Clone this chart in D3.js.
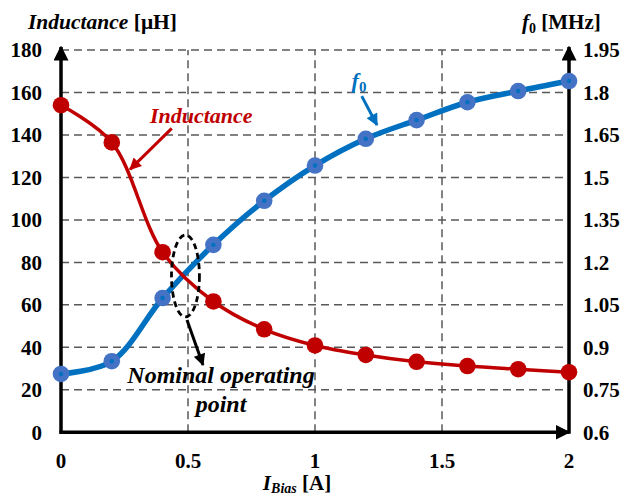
<!DOCTYPE html>
<html><head><meta charset="utf-8">
<script src="https://cdn.jsdelivr.net/npm/d3@7"></script>
<style>
html,body{margin:0;padding:0;background:#fff;}
svg{display:block;}
</style></head>
<body>
<svg id="chart" width="623" height="497"></svg>
<script>
// ---- data ----
const biasCurrent = [0, 0.2, 0.4, 0.6, 0.8, 1.0, 1.2, 1.4, 1.6, 1.8, 2.0];
const inductance = [154, 136.5, 84.8, 61.6, 48.5, 40.9, 36.4, 33.2, 31.2, 29.7, 28.3];
const f0MHz = [0.806, 0.851, 1.074, 1.262, 1.4175, 1.542, 1.6365, 1.7025, 1.7655, 1.805, 1.8405];
const xTicks = [0, 0.5, 1, 1.5, 2];
const xTickLabels = ["0", "0.5", "1", "1.5", "2"];
const yLeftTicks = [0, 20, 40, 60, 80, 100, 120, 140, 160, 180];
const yRightTicks = [0.6, 0.75, 0.9, 1.05, 1.2, 1.35, 1.5, 1.65, 1.8, 1.95];
const yRightLabels = ["0.6", "0.75", "0.9", "1.05", "1.2", "1.35", "1.5", "1.65", "1.8", "1.95"];
// annotations (data units: x in A, y in µH)
const ellipseAnn = {cx: 0.49, cy: 73.6, rx: 0.055, ry: 19.3};
const arrowInductance = [[0.436, 143.1], [0.272, 123.8]];
const arrowF0 = [[1.184, 158.3], [1.244, 144.7]];
const arrowNominal = [[0.496, 52.9], [0.559, 31.7]];

const FONT = "'Liberation Serif', Tinos, 'Times New Roman', serif";
const svg = d3.select("#chart").attr("font-family", FONT).attr("font-weight", "bold");
const mLeft = 61, mRight = 569, mTop = 50, mBottom = 432.3;
const x = d3.scaleLinear().domain([0, 2]).range([mLeft, mRight]);
const yL = d3.scaleLinear().domain([0, 180]).range([mBottom, mTop]);
const yR = d3.scaleLinear().domain([0.6, 1.95]).range([mBottom, mTop]);

const red = "#C00000", blue = "#0070C0", blueMk = "#4472C4", gridC = "#595959";

// markers
const defs = svg.append("defs");
function arrowMarker(id, color, w, h) {
  defs.append("marker").attr("id", id).attr("viewBox", "0 0 10 10")
    .attr("refX", 9).attr("refY", 5).attr("markerUnits", "userSpaceOnUse")
    .attr("markerWidth", w).attr("markerHeight", h).attr("orient", "auto")
    .append("path").attr("d", "M0,0L10,5L0,10Z").attr("fill", color);
}
arrowMarker("ahRed", red, 13, 12);
arrowMarker("ahBlue", blue, 13, 12);
arrowMarker("ahBlack", "#000", 13, 12);
arrowMarker("ahAxis", "#000", 15, 15);

// grid
const g = svg.append("g");
g.selectAll("line.h").data(yLeftTicks.filter(d => d > 0)).join("line")
  .attr("x1", mLeft).attr("x2", mRight).attr("y1", d => yL(d)).attr("y2", d => yL(d))
  .attr("stroke", gridC).attr("stroke-width", 1.5).attr("stroke-dasharray", "8,5");
g.selectAll("line.v").data(xTicks.filter(d => d > 0 && d < 2)).join("line")
  .attr("y1", mBottom).attr("y2", mTop).attr("x1", d => x(d)).attr("x2", d => x(d))
  .attr("stroke", gridC).attr("stroke-width", 1.5).attr("stroke-dasharray", "8,5");

// axes lines with arrows
svg.append("line").attr("x1", x(0)).attr("x2", x(0)).attr("y1", mBottom + 1.5).attr("y2", mTop - 3)
  .attr("stroke", "#000").attr("stroke-width", 3.5).attr("marker-end", "url(#ahAxis)");
svg.append("line").attr("x1", x(2)).attr("x2", x(2)).attr("y1", mBottom + 1.5).attr("y2", mTop - 3)
  .attr("stroke", "#000").attr("stroke-width", 3.5).attr("marker-end", "url(#ahAxis)");
svg.append("line").attr("x1", x(0) - 1.5).attr("x2", x(2)).attr("y1", mBottom).attr("y2", mBottom)
  .attr("stroke", "#000").attr("stroke-width", 3.5).attr("marker-end", "url(#ahAxis)");

// tick labels
svg.selectAll("text.yl").data(yLeftTicks).join("text")
  .attr("x", mLeft - 19).attr("y", d => yL(d)).attr("dy", "0.35em")
  .attr("text-anchor", "end").attr("font-size", 21).text(d => d);
svg.selectAll("text.yr").data(yRightTicks).join("text")
  .attr("x", mRight + 14).attr("y", d => yR(d)).attr("dy", "0.35em")
  .attr("text-anchor", "start").attr("font-size", 21).text((d, i) => yRightLabels[i]);
svg.selectAll("text.xt").data(xTicks).join("text")
  .attr("x", d => x(d)).attr("y", 468).attr("text-anchor", "middle")
  .attr("font-size", 21).text((d, i) => xTickLabels[i]);

// axis titles
const tL = svg.append("text").attr("x", 28).attr("y", 29).attr("font-size", 21.5);
tL.append("tspan").attr("font-style", "italic").text("Inductance");
tL.append("tspan").text(" [μH]");
const tR = svg.append("text").attr("x", 522).attr("y", 29).attr("font-size", 21);
tR.append("tspan").attr("font-style", "italic").text("f");
tR.append("tspan").attr("font-size", 14).attr("dy", 4).text("0");
tR.append("tspan").attr("dy", -4).text(" [MHz]");
const tX = svg.append("text").attr("x", 297).attr("y", 490).attr("text-anchor", "middle").attr("font-size", 21);
tX.append("tspan").attr("font-style", "italic").text("I");
tX.append("tspan").attr("font-style", "italic").attr("font-size", 14).attr("dy", 3).text("Bias");
tX.append("tspan").attr("dy", -3).text(" [A]");

// curves
const pts = biasCurrent.map((b, i) => ({b, L: inductance[i], f: f0MHz[i]}));
const lineL = d3.line().x(d => x(d.b)).y(d => yL(d.L)).curve(d3.curveCatmullRom.alpha(0.5));
const lineF = d3.line().x(d => x(d.b)).y(d => yR(d.f)).curve(d3.curveCatmullRom.alpha(0.5));

svg.append("path").datum(pts).attr("d", lineF).attr("fill", "none")
  .attr("stroke", blue).attr("stroke-width", 5.5);
svg.selectAll("circle.f").data(pts).join("circle")
  .attr("cx", d => x(d.b)).attr("cy", d => yR(d.f)).attr("r", 8.3).attr("fill", blueMk);
svg.selectAll("circle.fc").data(pts).join("circle")
  .attr("cx", d => x(d.b)).attr("cy", d => yR(d.f)).attr("r", 2.2).attr("fill", blue);

svg.append("path").datum(pts).attr("d", lineL).attr("fill", "none")
  .attr("stroke", red).attr("stroke-width", 3.5);
svg.selectAll("circle.l").data(pts).join("circle")
  .attr("cx", d => x(d.b)).attr("cy", d => yL(d.L)).attr("r", 8.3).attr("fill", red);

// annotations
svg.append("ellipse").attr("cx", x(ellipseAnn.cx)).attr("cy", yL(ellipseAnn.cy))
  .attr("rx", x(ellipseAnn.rx) - x(0)).attr("ry", yL(0) - yL(ellipseAnn.ry))
  .attr("fill", "none").attr("stroke", "#000").attr("stroke-width", 2.8).attr("stroke-dasharray", "6,4");

function arrow(a, color, m) {
  svg.append("line").attr("x1", x(a[0][0])).attr("y1", yL(a[0][1]))
    .attr("x2", x(a[1][0])).attr("y2", yL(a[1][1]))
    .attr("stroke", color).attr("stroke-width", 3).attr("marker-end", `url(#${m})`);
}
arrow(arrowInductance, red, "ahRed");
arrow(arrowF0, blue, "ahBlue");
arrow(arrowNominal, "#000", "ahBlack");

svg.append("text").attr("x", x(0.35)).attr("y", yL(145.8)).attr("font-size", 22)
  .attr("font-style", "italic").attr("fill", red).text("Inductance");
const tf = svg.append("text").attr("x", x(1.144)).attr("y", yL(162.1)).attr("font-size", 22)
  .attr("font-style", "italic").attr("fill", blue);
tf.append("tspan").text("f");
tf.append("tspan").attr("font-size", 15).attr("dy", 4).attr("font-style", "normal").text("0");
svg.append("text").attr("x", x(0.63)).attr("y", yL(23.2)).attr("font-size", 24)
  .attr("font-style", "italic").attr("text-anchor", "middle").text("Nominal operating");
svg.append("text").attr("x", x(0.63)).attr("y", yL(9.6)).attr("font-size", 24)
  .attr("font-style", "italic").attr("text-anchor", "middle").text("point");
</script>
</body></html>
